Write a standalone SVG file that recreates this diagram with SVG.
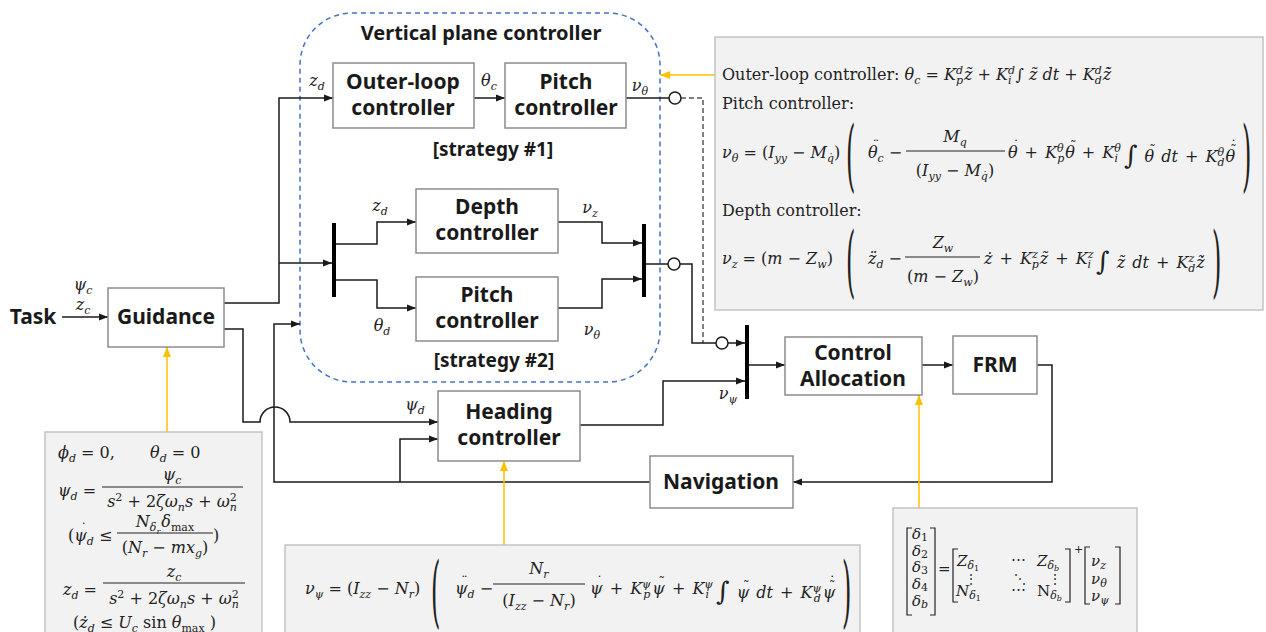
<svg xmlns="http://www.w3.org/2000/svg" width="1266" height="632" viewBox="0 0 1266 632">
<defs>
  <style>
    .blk{fill:#fff;stroke:#8c8c8c;stroke-width:1.5}
    .eqb{fill:#f2f2f2;stroke:#c4c4c4;stroke-width:1.5}
    .t{font-family:"Noto Sans","Liberation Sans",sans-serif;font-weight:bold;font-size:21px;fill:#1a1a1a;text-anchor:middle}
    .st{font-size:19px}
    .tt{font-size:20px}
    .m{font-family:"DejaVu Serif","Liberation Serif",serif;font-size:16px;fill:#222}
    .ws{word-spacing:2px}
    .mx{font-size:15px}
    .lb{font-family:"DejaVu Serif","Liberation Serif",serif;font-size:16px;font-style:italic;fill:#222;text-anchor:middle}
    .mid{text-anchor:middle}
    .i{font-style:italic}
    .sc{font-size:11px}
    .ss{font-size:8px}
    .ac{font-size:13px;font-style:normal}
    .big{font-size:26px}
    .dt{font-size:12px}
    .w{fill:none;stroke:#1a1a1a;stroke-width:1.5}
    .bar{stroke:#000;stroke-width:4}
    .o{fill:none;stroke:#ffc000;stroke-width:1.5}
    .vp{fill:none;stroke:#4472c4;stroke-width:1.5;stroke-dasharray:5 4}
    .dash{fill:none;stroke:#555;stroke-width:1.5;stroke-dasharray:5 3}
    .jn{fill:#fff;stroke:#1a1a1a;stroke-width:1.5}
    .fb{stroke:#222;stroke-width:1}
    .brk{fill:none;stroke:#222;stroke-width:1.2}
  </style>
  <marker id="ah" viewBox="0 0 10 10" refX="10" refY="5" markerWidth="9" markerHeight="9" markerUnits="userSpaceOnUse" orient="auto">
    <path d="M0,1 L10,5 L0,9 z" fill="#1a1a1a"/>
  </marker>
  <marker id="ao" viewBox="0 0 10 10" refX="10" refY="5" markerWidth="10" markerHeight="10" markerUnits="userSpaceOnUse" orient="auto">
    <path d="M0,1 L10,5 L0,9 z" fill="#ffc000"/>
  </marker>
</defs>

<rect width="1266" height="632" fill="#fff"/>

<!-- vertical plane controller container -->
<g id="vertical-plane">
  <rect class="vp" x="300" y="13" width="360" height="369" rx="52"/>
  <text class="t tt" x="481" y="40">Vertical plane controller</text>
  <text class="t st" x="493" y="156">[strategy #1]</text>
  <text class="t st" x="494" y="367">[strategy #2]</text>
</g>

<!-- connectors -->
<g id="connectors">
  <path class="w" d="M62,317 H108" marker-end="url(#ah)"/>
  <path class="w" d="M224,303 H279 V98 H333" marker-end="url(#ah)"/>
  <path class="w" d="M279,263 H332" marker-end="url(#ah)"/>
  <path class="w" d="M474,98 H505" marker-end="url(#ah)"/>
  <path class="w" d="M626,98 H669"/>
  <path class="dash" d="M681,98 H703 V343"/>
  <path class="w" d="M336,244 H377 V222 H416" marker-end="url(#ah)"/>
  <path class="w" d="M336,280 H377 V308 H416" marker-end="url(#ah)"/>
  <path class="w" d="M558,222 H602 V243 H642" marker-end="url(#ah)"/>
  <path class="w" d="M558,308 H602 V279 H642" marker-end="url(#ah)"/>
  <path class="w" d="M646,264 H668"/>
  <path class="w" d="M680,264 H692 V343 H716"/>
  <path class="w" d="M728,343 H745" marker-end="url(#ah)"/>
  <path class="w" d="M580,425 H663 V381 H745" marker-end="url(#ah)"/>
  <path class="w" d="M749,365 H785" marker-end="url(#ah)"/>
  <path class="w" d="M922,365 H953" marker-end="url(#ah)"/>
  <path class="w" d="M1037,365 H1052 V482 H793" marker-end="url(#ah)"/>
  <path class="w" d="M650,482 H274 V324 H300" marker-end="url(#ah)"/>
  <path class="w" d="M400,482 V439 H438" marker-end="url(#ah)"/>
  <path class="w" d="M224,329 H243 V422 H260 A15,15 0 0 1 290,422 H438" marker-end="url(#ah)"/>
  <line class="bar" x1="334" y1="223" x2="334" y2="297"/>
  <line class="bar" x1="644" y1="224" x2="644" y2="297"/>
  <line class="bar" x1="747" y1="325" x2="747" y2="399"/>
  <circle class="jn" cx="675" cy="98" r="6"/>
  <circle class="jn" cx="674" cy="264" r="6"/>
  <circle class="jn" cx="722" cy="343" r="6"/>
  <!-- equation references -->
  <path class="o" d="M715,75 H660" marker-end="url(#ao)"/>
  <path class="o" d="M167,432 V347" marker-end="url(#ao)"/>
  <path class="o" d="M504,545 V461" marker-end="url(#ao)"/>
  <path class="o" d="M919,508 V395" marker-end="url(#ao)"/>
</g>

<!-- signal labels -->
<g id="signal-labels">
  <text class="lb" x="83" y="290">ψ<tspan class="sc" dy="4">c</tspan></text>
  <text class="lb" x="83" y="310">z<tspan class="sc" dy="4">c</tspan></text>
  <text class="lb" x="317" y="86">z<tspan class="sc" dy="4">d</tspan></text>
  <text class="lb" x="489" y="86">θ<tspan class="sc" dy="4">c</tspan></text>
  <text class="lb" x="640" y="91">ν<tspan class="sc" dy="4">θ</tspan></text>
  <text class="lb" x="380" y="211">z<tspan class="sc" dy="4">d</tspan></text>
  <text class="lb" x="382" y="331">θ<tspan class="sc" dy="4">d</tspan></text>
  <text class="lb" x="590" y="213">ν<tspan class="sc" dy="4">z</tspan></text>
  <text class="lb" x="592" y="335">ν<tspan class="sc" dy="4">θ</tspan></text>
  <text class="lb" x="415" y="410">ψ<tspan class="sc" dy="4">d</tspan></text>
  <text class="lb" x="728" y="399">ν<tspan class="sc" dy="4">ψ</tspan></text>
</g>

<g id="task"><text class="t" x="33" y="324">Task</text></g>

<g id="guidance">
  <rect class="blk" x="108" y="288" width="116" height="59"/>
  <text class="t" x="166" y="324">Guidance</text>
</g>

<g id="outer-loop">
  <rect class="blk" x="333" y="63" width="141" height="65"/>
  <text class="t" x="403" y="89">Outer-loop</text>
  <text class="t" x="403" y="115">controller</text>
</g>

<g id="pitch-1">
  <rect class="blk" x="505" y="63" width="121" height="65"/>
  <text class="t" x="566" y="89">Pitch</text>
  <text class="t" x="566" y="115">controller</text>
</g>

<g id="depth">
  <rect class="blk" x="416" y="189" width="142" height="64"/>
  <text class="t" x="487" y="214">Depth</text>
  <text class="t" x="487" y="240">controller</text>
</g>

<g id="pitch-2">
  <rect class="blk" x="416" y="277" width="142" height="64"/>
  <text class="t" x="487" y="302">Pitch</text>
  <text class="t" x="487" y="328">controller</text>
</g>

<g id="heading">
  <rect class="blk" x="438" y="391" width="142" height="70"/>
  <text class="t" x="509" y="419">Heading</text>
  <text class="t" x="509" y="445">controller</text>
</g>

<g id="control-allocation">
  <rect class="blk" x="785" y="337" width="137" height="58"/>
  <text class="t" x="853" y="360">Control</text>
  <text class="t" x="853" y="386">Allocation</text>
</g>

<g id="frm">
  <rect class="blk" x="953" y="336" width="84" height="58"/>
  <text class="t" x="995" y="372">FRM</text>
</g>

<g id="navigation">
  <rect class="blk" x="650" y="456" width="143" height="52"/>
  <text class="t" x="721" y="489">Navigation</text>
</g>

<!-- vertical plane control laws -->
<g id="eq-vertical">
  <rect class="eqb" x="715" y="37" width="548" height="273"/>
  <text class="m" x="722" y="80">Outer-loop controller: <tspan class="i">θ</tspan><tspan class="sc i" dy="4">c</tspan><tspan dy="-4"> = </tspan><tspan class="i">K</tspan><tspan class="sc i" dy="-6">d</tspan><tspan class="sc i" dx="-7" dy="10">p</tspan><tspan class="i" dy="-4" dx="1">z̃</tspan> + <tspan class="i">K</tspan><tspan class="sc i" dy="-6">d</tspan><tspan class="sc i" dx="-7" dy="10">i</tspan><tspan dx="4" dy="-4">∫ </tspan><tspan class="i">z̃ dt</tspan> + <tspan class="i">K</tspan><tspan class="sc i" dy="-6">d</tspan><tspan class="sc i" dx="-7" dy="10">d</tspan><tspan class="i" dy="-4" dx="1">z̃̇</tspan></text>
  <text class="m" x="722" y="109">Pitch controller:</text>
  <text class="m" x="722" y="158"><tspan class="i">ν</tspan><tspan class="sc i" dy="4">θ</tspan><tspan dy="-4"> = (</tspan><tspan class="i">I</tspan><tspan class="sc i" dy="4">yy</tspan><tspan dy="-4"> − </tspan><tspan class="i">M</tspan><tspan class="sc i" dy="4">q̇</tspan><tspan dy="-4">)</tspan></text>
  <text class="m" transform="translate(846,182) scale(1.5,4.9)">(</text>
  <text class="m" x="868" y="158"><tspan class="i">θ</tspan><tspan class="ac" dx="-5" dy="-8">¨</tspan><tspan class="sc i" dx="-1.6" dy="12">c</tspan><tspan dy="-4"> −</tspan></text>
  <line class="fb" x1="906" y1="151" x2="1005" y2="151"/>
  <text class="m mid" x="955" y="142"><tspan class="i">M</tspan><tspan class="sc i" dy="4">q</tspan></text>
  <text class="m mid" x="955" y="176">(<tspan class="i">I</tspan><tspan class="sc i" dy="4">yy</tspan><tspan dy="-4"> − </tspan><tspan class="i">M</tspan><tspan class="sc i" dy="4">q̇</tspan><tspan dy="-4">)</tspan></text>
  <text class="m ws" x="1008" y="158"><tspan class="i">θ</tspan><tspan class="ac" dx="-5" dy="-8">˙</tspan><tspan dx="-1.6" dy="8"> + </tspan><tspan class="i">K</tspan><tspan class="sc i" dy="-6">θ</tspan><tspan class="sc i" dx="-6.5" dy="10">p</tspan><tspan class="i" dy="-4" dx="1">θ</tspan><tspan class="ac" dx="-5" dy="-8">˜</tspan><tspan dx="-1.6" dy="8"> + </tspan><tspan class="i">K</tspan><tspan class="sc i" dy="-6">θ</tspan><tspan class="sc i" dx="-6.5" dy="10">i</tspan><tspan class="big" dx="6" dy="2">∫</tspan><tspan dy="-2"> </tspan><tspan class="i">θ</tspan><tspan class="ac" dx="-5" dy="-8">˜</tspan><tspan class="i" dx="-1.6" dy="8"> dt</tspan> + <tspan class="i">K</tspan><tspan class="sc i" dy="-6">θ</tspan><tspan class="sc i" dx="-6.5" dy="10">d</tspan><tspan class="i" dy="-4" dx="1">θ</tspan><tspan class="ac" dx="-5" dy="-8">˜</tspan><tspan class="ac" dx="-6.5" dy="-4">˙</tspan></text>
  <text class="m" transform="translate(1242,182) scale(1.5,4.9)">)</text>
  <text class="m" x="722" y="216">Depth controller:</text>
  <text class="m" x="722" y="264"><tspan class="i">ν</tspan><tspan class="sc i" dy="4">z</tspan><tspan dy="-4"> = (</tspan><tspan class="i">m</tspan> − <tspan class="i">Z</tspan><tspan class="sc i" dy="4">w</tspan><tspan dy="-4">)</tspan></text>
  <text class="m" transform="translate(846,288) scale(1.5,4.9)">(</text>
  <text class="m" x="868" y="264"><tspan class="i">z̈</tspan><tspan class="sc i" dy="4">d</tspan><tspan dy="-4"> −</tspan></text>
  <line class="fb" x1="905" y1="257" x2="980" y2="257"/>
  <text class="m mid" x="943" y="248"><tspan class="i">Z</tspan><tspan class="sc i" dy="4">w</tspan></text>
  <text class="m mid" x="943" y="282">(<tspan class="i">m</tspan> − <tspan class="i">Z</tspan><tspan class="sc i" dy="4">w</tspan><tspan dy="-4">)</tspan></text>
  <text class="m ws" x="984" y="264"><tspan class="i">ż</tspan> + <tspan class="i">K</tspan><tspan class="sc i" dy="-6">z</tspan><tspan class="sc i" dx="-6" dy="10">p</tspan><tspan class="i" dy="-4" dx="1">z̃</tspan> + <tspan class="i">K</tspan><tspan class="sc i" dy="-6">z</tspan><tspan class="sc i" dx="-6" dy="10">i</tspan><tspan class="big" dx="5" dy="2">∫</tspan><tspan class="i" dy="-2"> z̃ dt</tspan> + <tspan class="i">K</tspan><tspan class="sc i" dy="-6">z</tspan><tspan class="sc i" dx="-6" dy="10">d</tspan><tspan class="i" dy="-4" dx="1">ż̃</tspan></text>
  <text class="m" transform="translate(1212,288) scale(1.5,4.9)">)</text>
</g>

<!-- guidance filter -->
<g id="eq-guidance">
  <rect class="eqb" x="45" y="432" width="217" height="210"/>
  <text class="m" x="58" y="458"><tspan class="i">ϕ</tspan><tspan class="sc i" dy="4">d</tspan><tspan dy="-4"> = 0,</tspan></text>
  <text class="m" x="150" y="458"><tspan class="i">θ</tspan><tspan class="sc i" dy="4">d</tspan><tspan dy="-4"> = 0</tspan></text>
  <text class="m" x="58" y="496"><tspan class="i">ψ</tspan><tspan class="sc i" dy="4">d</tspan><tspan dy="-4"> =</tspan></text>
  <text class="m mid" x="172" y="480"><tspan class="i">ψ</tspan><tspan class="sc i" dy="4">c</tspan></text>
  <line class="fb" x1="102" y1="487" x2="243" y2="487"/>
  <text class="m mid" x="172" y="507"><tspan class="i">s</tspan><tspan class="sc" dy="-6">2</tspan><tspan dy="6"> + 2</tspan><tspan class="i">ζω</tspan><tspan class="sc i" dy="4">n</tspan><tspan class="i" dy="-4">s</tspan> + <tspan class="i">ω</tspan><tspan class="sc" dy="-6">2</tspan><tspan class="sc i" dx="-7" dy="10">n</tspan></text>
  <text class="m" x="68" y="541">(<tspan class="i">ψ</tspan><tspan class="ac" dx="-6.3" dy="-8">˙</tspan><tspan class="sc i" dx="-0.2" dy="12">d</tspan><tspan dy="-4"> ≤</tspan></text>
  <text class="m mid" x="165" y="527"><tspan class="i">N</tspan><tspan class="sc i" dy="4">δ</tspan><tspan class="ss i" dy="3">r</tspan><tspan class="i" dy="-7" dx="1">δ</tspan><tspan class="sc" dy="4">max</tspan></text>
  <line class="fb" x1="117" y1="533" x2="213" y2="533"/>
  <text class="m mid" x="165" y="553">(<tspan class="i">N</tspan><tspan class="sc i" dy="4">r</tspan><tspan dy="-4"> − </tspan><tspan class="i">mx</tspan><tspan class="sc i" dy="4">g</tspan><tspan dy="-4">)</tspan></text>
  <text class="m" x="213" y="541">)</text>
  <text class="m" x="63" y="595"><tspan class="i">z</tspan><tspan class="sc i" dy="4">d</tspan><tspan dy="-4"> =</tspan></text>
  <text class="m mid" x="174" y="577"><tspan class="i">z</tspan><tspan class="sc i" dy="4">c</tspan></text>
  <line class="fb" x1="103" y1="583" x2="245" y2="583"/>
  <text class="m mid" x="174" y="604"><tspan class="i">s</tspan><tspan class="sc" dy="-6">2</tspan><tspan dy="6"> + 2</tspan><tspan class="i">ζω</tspan><tspan class="sc i" dy="4">n</tspan><tspan class="i" dy="-4">s</tspan> + <tspan class="i">ω</tspan><tspan class="sc" dy="-6">2</tspan><tspan class="sc i" dx="-7" dy="10">n</tspan></text>
  <text class="m" x="73" y="628">(<tspan class="i">ż</tspan><tspan class="sc i" dy="4">d</tspan><tspan dy="-4"> ≤ </tspan><tspan class="i">U</tspan><tspan class="sc i" dy="4">c</tspan><tspan dy="-4"> sin </tspan><tspan class="i">θ</tspan><tspan class="sc" dy="4">max</tspan><tspan dy="-4"> )</tspan></text>
</g>

<!-- heading control law -->
<g id="eq-heading">
  <rect class="eqb" x="285" y="545" width="575" height="100"/>
  <text class="m" x="305" y="594"><tspan class="i">ν</tspan><tspan class="sc i" dy="4">ψ</tspan><tspan dy="-4"> = (</tspan><tspan class="i">I</tspan><tspan class="sc i" dy="4">zz</tspan><tspan dy="-4"> − </tspan><tspan class="i">N</tspan><tspan class="sc i" dy="4">r</tspan><tspan dy="-4">)</tspan></text>
  <text class="m" transform="translate(431,618) scale(1.5,4.9)">(</text>
  <text class="m" x="455" y="594"><tspan class="i">ψ</tspan><tspan class="ac" dx="-6.3" dy="-8">¨</tspan><tspan class="sc i" dx="-0.2" dy="12">d</tspan><tspan dy="-4"> −</tspan></text>
  <line class="fb" x1="493" y1="584" x2="585" y2="584"/>
  <text class="m mid" x="539" y="574"><tspan class="i">N</tspan><tspan class="sc i" dy="4">r</tspan></text>
  <text class="m mid" x="539" y="606">(<tspan class="i">I</tspan><tspan class="sc i" dy="4">zz</tspan><tspan dy="-4"> − </tspan><tspan class="i">N</tspan><tspan class="sc i" dy="4">r</tspan><tspan dy="-4">)</tspan></text>
  <text class="m ws" x="590" y="594"><tspan class="i">ψ</tspan><tspan class="ac" dx="-6.3" dy="-8">˙</tspan><tspan dx="-0.2" dy="8"> + </tspan><tspan class="i">K</tspan><tspan class="sc i" dy="-6">ψ</tspan><tspan class="sc i" dx="-7.5" dy="10">p</tspan><tspan class="i" dy="-4" dx="2">ψ</tspan><tspan class="ac" dx="-6.3" dy="-8">˜</tspan><tspan dx="-0.2" dy="8"> + </tspan><tspan class="i">K</tspan><tspan class="sc i" dy="-6">ψ</tspan><tspan class="sc i" dx="-7.5" dy="10">i</tspan><tspan class="big" dx="7" dy="2">∫</tspan><tspan dy="-2"> </tspan><tspan class="i">ψ</tspan><tspan class="ac" dx="-6.3" dy="-8">˜</tspan><tspan class="i" dx="-0.2" dy="8"> dt</tspan> + <tspan class="i">K</tspan><tspan class="sc i" dy="-6">ψ</tspan><tspan class="sc i" dx="-7.5" dy="10">d</tspan><tspan class="i" dy="-4" dx="2">ψ</tspan><tspan class="ac" dx="-6.3" dy="-8">˜</tspan><tspan class="ac" dx="-6.5" dy="-4">˙</tspan></text>
  <text class="m" transform="translate(842,618) scale(1.5,4.9)">)</text>
</g>

<!-- allocation pseudo-inverse -->
<g id="eq-allocation">
  <rect class="eqb" x="893" y="508" width="244" height="130"/>
  <path class="brk" d="M912,528 H907 V615 H912 M930,528 H935 V615 H930"/>
  <text class="m mx" x="912" y="539"><tspan class="i">δ</tspan><tspan class="sc" dy="2">1</tspan></text>
  <text class="m mx" x="912" y="556"><tspan class="i">δ</tspan><tspan class="sc" dy="2">2</tspan></text>
  <text class="m mx" x="912" y="572"><tspan class="i">δ</tspan><tspan class="sc" dy="2">3</tspan></text>
  <text class="m mx" x="912" y="589"><tspan class="i">δ</tspan><tspan class="sc" dy="2">4</tspan></text>
  <text class="m mx" x="912" y="606"><tspan class="i">δ</tspan><tspan class="sc i" dy="2">b</tspan></text>
  <text class="m mx" x="938" y="574">=</text>
  <path class="brk" d="M958,549 H953 V602 H958 M1065,549 H1070 V602 H1065"/>
  <text class="m mx" x="957" y="566"><tspan class="i">Z</tspan><tspan class="sc i" dy="3">δ</tspan><tspan class="ss" dy="2">1</tspan></text>
  <text class="m mx" x="1011" y="564">⋯</text>
  <text class="m mx" x="1037" y="566"><tspan class="i">Z</tspan><tspan class="sc i" dy="3">δ</tspan><tspan class="ss i" dy="2">b</tspan></text>
  <text class="m dt" x="965" y="583">⋮</text>
  <text class="m dt" x="1014" y="583">⋱</text>
  <text class="m dt" x="1049" y="583">⋮</text>
  <text class="m mx" x="956" y="596"><tspan class="i">N</tspan><tspan class="sc i" dy="3">δ</tspan><tspan class="ss" dy="2">1</tspan></text>
  <text class="m mx" x="1011" y="594">⋯</text>
  <text class="m mx" x="1037" y="596">N<tspan class="sc i" dy="3">δ</tspan><tspan class="ss i" dy="2">b</tspan></text>
  <text class="m sc" x="1074" y="553">+</text>
  <path class="brk" d="M1090,547 H1085 V604 H1090 M1115,547 H1120 V604 H1115"/>
  <text class="m mx" x="1091" y="566"><tspan class="i">ν</tspan><tspan class="sc i" dy="3">z</tspan></text>
  <text class="m mx" x="1091" y="584"><tspan class="i">ν</tspan><tspan class="sc i" dy="3">θ</tspan></text>
  <text class="m mx" x="1091" y="601"><tspan class="i">ν</tspan><tspan class="sc i" dy="3">ψ</tspan></text>
</g>
</svg>
